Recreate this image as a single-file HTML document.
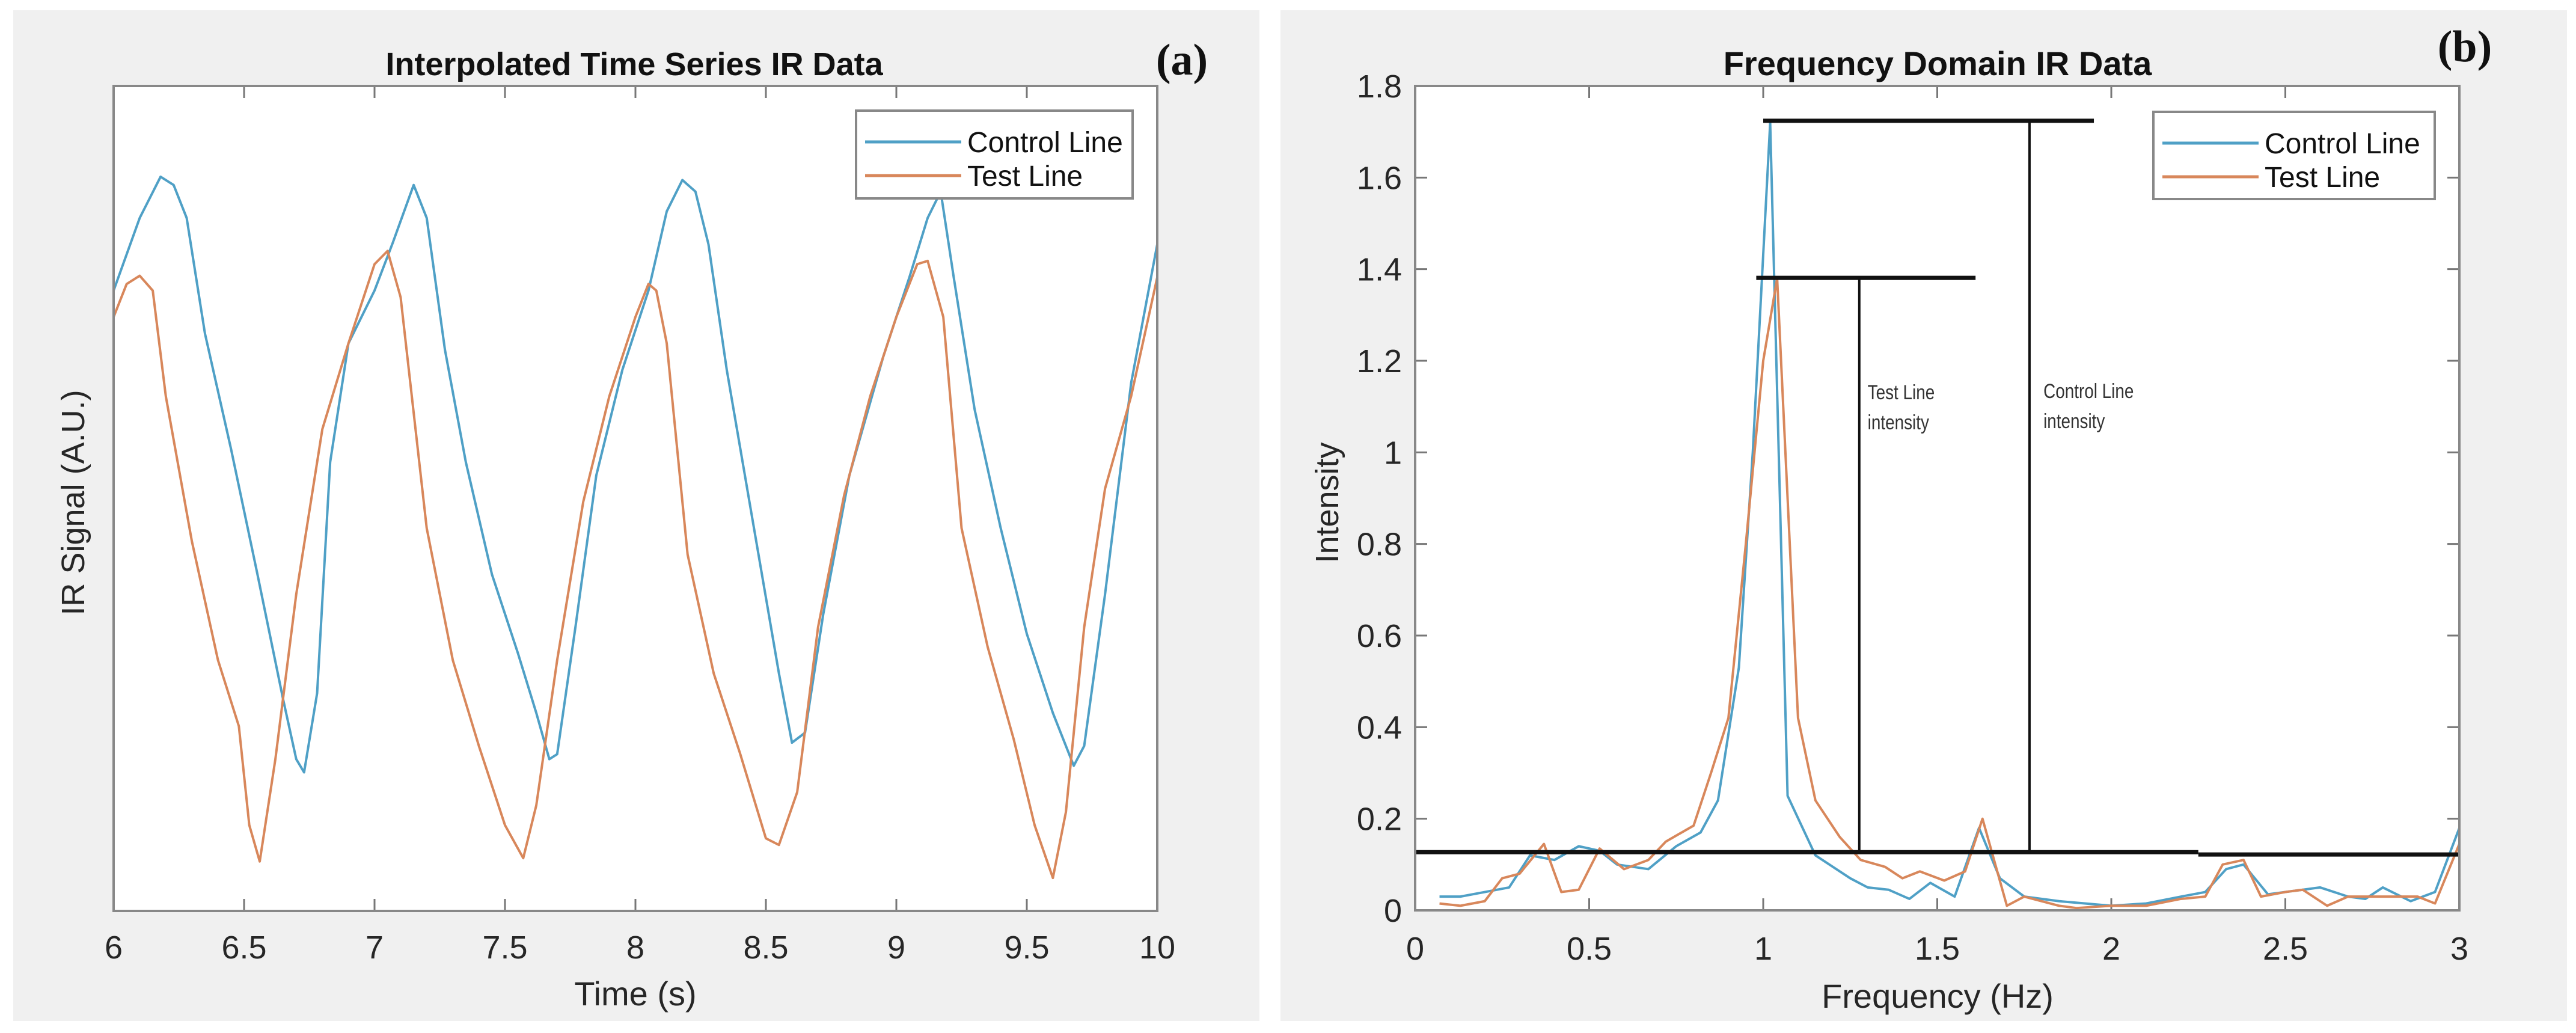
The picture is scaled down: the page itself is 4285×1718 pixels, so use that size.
<!DOCTYPE html>
<html><head><meta charset="utf-8"><style>
html,body{margin:0;padding:0;background:#fff;}
svg{display:block;}
text{font-family:"Liberation Sans",sans-serif;}
</style></head><body>
<svg id="fig" width="4285" height="1718" viewBox="0 0 4285 1718" xmlns="http://www.w3.org/2000/svg">
<rect x="22" y="17" width="2073" height="1681" fill="#f0f0f0"/>
<rect x="2130" y="17" width="2140" height="1681" fill="#f0f0f0"/>
<g id="pa"></g>
<g id="pb"></g>
</svg>
<script>
// ---- Panel (a) data ----
const timeCtrl = [6.0,6.1,6.18,6.23,6.28,6.35,6.45,6.55,6.65,6.7,6.73,6.78,6.83,6.9,7.0,7.07,7.15,7.2,7.27,7.35,7.45,7.55,7.62,7.67,7.7,7.77,7.85,7.95,8.05,8.12,8.18,8.23,8.28,8.35,8.45,8.55,8.6,8.65,8.72,8.82,8.95,9.05,9.12,9.17,9.22,9.3,9.4,9.5,9.6,9.68,9.72,9.8,9.9,10.0];
const sigCtrl = [0.752,0.84,0.89,0.88,0.84,0.70,0.56,0.41,0.256,0.184,0.168,0.264,0.544,0.688,0.752,0.81,0.88,0.84,0.68,0.544,0.408,0.312,0.24,0.184,0.19,0.344,0.528,0.656,0.752,0.848,0.886,0.872,0.808,0.656,0.472,0.288,0.204,0.216,0.36,0.528,0.672,0.768,0.84,0.872,0.768,0.608,0.464,0.336,0.24,0.176,0.2,0.384,0.64,0.808];
const timeTest = [6.0,6.05,6.1,6.15,6.2,6.3,6.4,6.48,6.52,6.56,6.62,6.7,6.8,6.9,7.0,7.05,7.1,7.2,7.3,7.4,7.5,7.57,7.62,7.7,7.8,7.9,8.0,8.05,8.08,8.12,8.2,8.3,8.4,8.5,8.55,8.62,8.7,8.8,8.9,9.0,9.08,9.12,9.18,9.25,9.35,9.45,9.53,9.6,9.65,9.72,9.8,9.9,10.0];
const sigTest = [0.72,0.76,0.77,0.752,0.624,0.448,0.304,0.224,0.104,0.06,0.184,0.384,0.584,0.688,0.784,0.8,0.744,0.464,0.304,0.2,0.104,0.064,0.128,0.304,0.496,0.624,0.72,0.76,0.752,0.688,0.432,0.288,0.192,0.088,0.08,0.144,0.344,0.504,0.624,0.72,0.784,0.788,0.72,0.464,0.32,0.208,0.104,0.04,0.12,0.344,0.512,0.624,0.768];
const timeTicks = ["6","6.5","7","7.5","8","8.5","9","9.5","10"];
// ---- Panel (b) data ----
const freqCtrl = [0.07,0.13,0.2,0.27,0.33,0.4,0.47,0.53,0.58,0.67,0.75,0.82,0.87,0.93,0.97,1.02,1.07,1.15,1.25,1.3,1.36,1.42,1.48,1.55,1.62,1.68,1.75,1.85,2.0,2.1,2.2,2.27,2.33,2.38,2.45,2.55,2.6,2.68,2.73,2.78,2.86,2.93,3.0];
const intCtrl = [0.03,0.03,0.04,0.05,0.12,0.11,0.14,0.13,0.1,0.09,0.14,0.17,0.24,0.53,1.0,1.72,0.25,0.12,0.07,0.05,0.045,0.025,0.06,0.03,0.18,0.07,0.03,0.02,0.01,0.015,0.03,0.04,0.09,0.1,0.035,0.045,0.05,0.03,0.025,0.05,0.02,0.04,0.18];
const freqTest = [0.07,0.13,0.2,0.25,0.3,0.37,0.42,0.47,0.53,0.6,0.67,0.72,0.8,0.85,0.9,0.95,1.0,1.04,1.1,1.15,1.22,1.28,1.35,1.4,1.45,1.52,1.58,1.63,1.7,1.75,1.85,1.9,2.0,2.1,2.2,2.27,2.32,2.38,2.43,2.5,2.55,2.62,2.68,2.75,2.82,2.88,2.93,3.0];
const intTest = [0.015,0.01,0.02,0.07,0.08,0.145,0.04,0.045,0.135,0.09,0.11,0.15,0.185,0.3,0.42,0.8,1.2,1.38,0.42,0.24,0.16,0.11,0.095,0.07,0.085,0.065,0.085,0.2,0.01,0.03,0.01,0.005,0.01,0.01,0.025,0.03,0.1,0.11,0.03,0.04,0.045,0.01,0.03,0.03,0.03,0.03,0.015,0.145];
const freqTicks = ["0","0.5","1","1.5","2","2.5","3"];
const intTicks = ["0","0.2","0.4","0.6","0.8","1","1.2","1.4","1.6","1.8"];
const ctrlBar = [1.0, 1.95, 1.724, 1.765];   // x0, x1, level, stem x
const testBar = [0.98, 1.61, 1.381, 1.276];
const baseLevel = [0.127, 0.122, 2.25];      // left level, right level, split

const NS="http://www.w3.org/2000/svg";
function el(parent,tag,attrs,txt){const e=document.createElementNS(NS,tag);for(const k in attrs)e.setAttribute(k,attrs[k]);if(txt!==undefined)e.textContent=txt;parent.appendChild(e);return e;}
const BLUE="#4fa0c6", ORANGE="#d8875b";

// ---------- Panel A ----------
const pa=document.getElementById('pa');
const A={l:189,r:1925,t:143,b:1515};
const ax=t=>A.l+(t-6)/4*(A.r-A.l);
const ay=v=>A.b-v*(A.b-A.t);
let r=el(pa,'rect',{x:A.l,y:A.t,width:A.r-A.l,height:A.b-A.t,fill:'#fff'});


timeTicks.forEach(s=>{const x=ax(parseFloat(s));
  let t=el(pa,'line',{x1:x,x2:x,y1:A.b,y2:A.b-20,stroke:'#777','stroke-width':3});
  
  let t2=el(pa,'line',{x1:x,x2:x,y1:A.t,y2:A.t+20,stroke:'#777','stroke-width':3});
  
  let lb=el(pa,'text',{x:x,y:1594,'font-size':54,'text-anchor':'middle',fill:'#262626'},s);
  
});
function poly(g,xs,ys,fx,fy,col,name){const p=el(g,'polyline',{points:xs.map((x,i)=>fx(x)+','+fy(ys[i])).join(' '),fill:'none',stroke:col,'stroke-width':4,'stroke-linejoin':'round'});
  return p;}
poly(pa,timeCtrl,sigCtrl,ax,ay,BLUE,'control-line-series-a');
poly(pa,timeTest,sigTest,ax,ay,ORANGE,'test-line-series-a');
r=el(pa,'rect',{x:A.l,y:A.t,width:A.r-A.l,height:A.b-A.t,fill:'none',stroke:'#888','stroke-width':4});

let tt=el(pa,'text',{x:1055,y:125,'font-size':54,'font-weight':'bold','text-anchor':'middle',fill:'#111'},'Interpolated Time Series IR Data');

tt=el(pa,'text',{x:1966,y:124,'font-size':74,'font-weight':'bold','text-anchor':'middle',fill:'#111',style:'font-family:"Liberation Serif",serif'},'(a)');

tt=el(pa,'text',{x:0,y:0,'font-size':54,'text-anchor':'middle',fill:'#262626',transform:'translate(140 836) rotate(-90)'},'IR Signal (A.U.)');

tt=el(pa,'text',{x:1057,y:1672,'font-size':56,'text-anchor':'middle',fill:'#262626'},'Time (s)');

function legend(g,x,y,w,h,suffix){
  let b=el(g,'rect',{x:x,y:y,width:w,height:h,fill:'#fff',stroke:'#888','stroke-width':4});
  
  let l1=el(g,'line',{x1:x+15,x2:x+175,y1:y+52,y2:y+52,stroke:BLUE,'stroke-width':5});
  
  let t1=el(g,'text',{x:x+185,y:y+69,'font-size':48,fill:'#111'},'Control Line');
  
  let l2=el(g,'line',{x1:x+15,x2:x+175,y1:y+108,y2:y+108,stroke:ORANGE,'stroke-width':5});
  
  let t2=el(g,'text',{x:x+185,y:y+125,'font-size':48,fill:'#111'},'Test Line');
  
}
legend(pa,1424,184,460,146,'a');

// ---------- Panel B ----------
const pb=document.getElementById('pb');
const B={l:2354,r:4091,t:143,b:1514};
const bx=f=>B.l+f/3*(B.r-B.l);
const by=v=>B.b-v/1.8*(B.b-B.t);
r=el(pb,'rect',{x:B.l,y:B.t,width:B.r-B.l,height:B.b-B.t,fill:'#fff'});

freqTicks.forEach(s=>{const x=bx(parseFloat(s));
  let t=el(pb,'line',{x1:x,x2:x,y1:B.b,y2:B.b-20,stroke:'#777','stroke-width':3});
  
  let t2=el(pb,'line',{x1:x,x2:x,y1:B.t,y2:B.t+20,stroke:'#777','stroke-width':3});
  
  let lb=el(pb,'text',{x:x,y:1596,'font-size':54,'text-anchor':'middle',fill:'#262626'},s);
  
});
intTicks.forEach(s=>{const y=by(parseFloat(s));
  let t=el(pb,'line',{x1:B.l,x2:B.l+20,y1:y,y2:y,stroke:'#777','stroke-width':3});
  
  let t2=el(pb,'line',{x1:B.r,x2:B.r-20,y1:y,y2:y,stroke:'#777','stroke-width':3});
  
  let lb=el(pb,'text',{x:2332,y:y+19,'font-size':54,'text-anchor':'end',fill:'#262626'},s);
  
});
poly(pb,freqCtrl,intCtrl,bx,by,BLUE,'control-line-series-b');
poly(pb,freqTest,intTest,bx,by,ORANGE,'test-line-series-b');
function bl(x1,y1,x2,y2,w,name){const l=el(pb,'line',{x1:x1,y1:y1,x2:x2,y2:y2,stroke:'#111','stroke-width':w});}
bl(B.l,by(baseLevel[0]),bx(baseLevel[2]),by(baseLevel[0]),7,'baseline-noise-level');
bl(bx(baseLevel[2]),by(baseLevel[1]),B.r,by(baseLevel[1]),7,'baseline-noise-level-right');
bl(bx(ctrlBar[0]),by(ctrlBar[2]),bx(ctrlBar[1]),by(ctrlBar[2]),7,'control-peak-marker');
bl(bx(ctrlBar[3]),by(ctrlBar[2]),bx(ctrlBar[3]),by(baseLevel[0]),4,'control-intensity-stem');
bl(bx(testBar[0]),by(testBar[2]),bx(testBar[1]),by(testBar[2]),7,'test-peak-marker');
bl(bx(testBar[3]),by(testBar[2]),bx(testBar[3]),by(baseLevel[0]),4,'test-intensity-stem');
function ann(x,y,s,name){const t=el(pb,'text',{x:x,y:y,'font-size':34,fill:'#333',transform:`translate(${x} 0) scale(0.82 1) translate(${-x} 0)`},s);}
ann(bx(1.3),664,'Test Line','test-annotation-line1');
ann(bx(1.3),714,'intensity','test-annotation-line2');
ann(bx(1.805),662,'Control Line','control-annotation-line1');
ann(bx(1.805),712,'intensity','control-annotation-line2');
r=el(pb,'rect',{x:B.l,y:B.t,width:B.r-B.l,height:B.b-B.t,fill:'none',stroke:'#888','stroke-width':4});

tt=el(pb,'text',{x:3223,y:125,'font-size':56,'font-weight':'bold','text-anchor':'middle',fill:'#111'},'Frequency Domain IR Data');

tt=el(pb,'text',{x:4100,y:102,'font-size':74,'font-weight':'bold','text-anchor':'middle',fill:'#111',style:'font-family:"Liberation Serif",serif'},'(b)');

tt=el(pb,'text',{x:0,y:0,'font-size':54,'text-anchor':'middle',fill:'#262626',transform:'translate(2226 836) rotate(-90)'},'Intensity');

tt=el(pb,'text',{x:3223,y:1676,'font-size':56,'text-anchor':'middle',fill:'#262626'},'Frequency (Hz)');

legend(pb,3582,186,468,145,'b');
</script>
</body></html>
